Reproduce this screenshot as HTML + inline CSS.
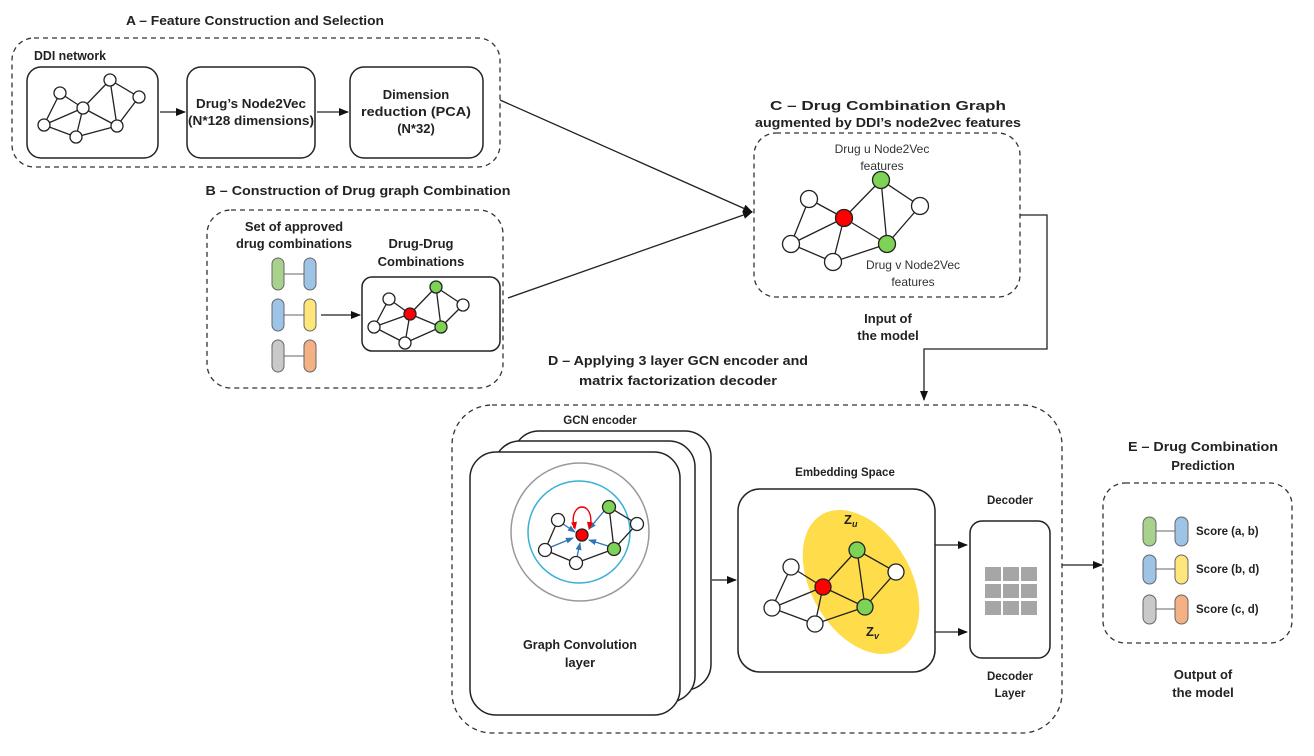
<!DOCTYPE html>
<html><head><meta charset="utf-8"><style>
html,body{margin:0;padding:0;background:#fff;}
svg{display:block;font-family:"Liberation Sans",sans-serif;}
.t{font-weight:bold;font-size:13px;fill:#222;text-anchor:middle;}
.s{font-size:12px;fill:#333;text-anchor:middle;}
.d{fill:none;stroke:#333;stroke-width:1.3;stroke-dasharray:5,4;}
.b{fill:#fff;stroke:#222;stroke-width:1.5;}
.e{stroke:#222;stroke-width:1.3;}
.n{fill:#fff;stroke:#222;stroke-width:1.3;}
.r{fill:#f00;stroke:#222;stroke-width:1.3;}
.g{fill:#7dd356;stroke:#222;stroke-width:1.3;}
.l{stroke:#222;stroke-width:1.3;fill:none;}
</style></head><body>
<svg width="1314" height="756" viewBox="0 0 1314 756">
<defs>
<marker id="ar" markerWidth="10" markerHeight="8" refX="9" refY="4" orient="auto" markerUnits="userSpaceOnUse"><path d="M0,0 L10,4 L0,8 z" fill="#111"/></marker>
<marker id="ab" markerWidth="8" markerHeight="6" refX="7" refY="3" orient="auto" markerUnits="userSpaceOnUse"><path d="M0,0 L8,3 L0,6 z" fill="#2e75b6"/></marker>
<marker id="arr" markerWidth="8" markerHeight="6" refX="7" refY="3" orient="auto" markerUnits="userSpaceOnUse"><path d="M0,0 L8,3 L0,6 z" fill="#e00"/></marker>
</defs>

<!-- A -->
<text class="t" x="255" y="25" textLength="258" lengthAdjust="spacingAndGlyphs">A – Feature Construction and Selection</text>
<rect class="d" x="12" y="38" width="488" height="129" rx="22"/>
<text class="t" x="70" y="60" textLength="72" lengthAdjust="spacingAndGlyphs">DDI network</text>
<rect class="b" x="27" y="67" width="131" height="91" rx="14"/>
<g>
<line class="e" x1="60" y1="93" x2="83" y2="108"/><line class="e" x1="60" y1="93" x2="44" y2="125"/>
<line class="e" x1="44" y1="125" x2="83" y2="108"/><line class="e" x1="83" y1="108" x2="76" y2="137"/>
<line class="e" x1="44" y1="125" x2="76" y2="137"/><line class="e" x1="83" y1="108" x2="110" y2="80"/>
<line class="e" x1="83" y1="108" x2="117" y2="126"/><line class="e" x1="110" y1="80" x2="117" y2="126"/>
<line class="e" x1="110" y1="80" x2="139" y2="97"/><line class="e" x1="139" y1="97" x2="117" y2="126"/>
<line class="e" x1="76" y1="137" x2="117" y2="126"/>
<circle class="n" cx="60" cy="93" r="6"/><circle class="n" cx="83" cy="108" r="6"/><circle class="n" cx="44" cy="125" r="6"/>
<circle class="n" cx="76" cy="137" r="6"/><circle class="n" cx="110" cy="80" r="6"/><circle class="n" cx="139" cy="97" r="6"/><circle class="n" cx="117" cy="126" r="6"/>
</g>
<line class="l" x1="160" y1="112" x2="185" y2="112" marker-end="url(#ar)"/>
<rect class="b" x="187" y="67" width="128" height="91" rx="14"/>
<text class="t" x="251" y="108" textLength="110" lengthAdjust="spacingAndGlyphs">Drug’s Node2Vec</text>
<text class="t" x="251" y="125" textLength="126" lengthAdjust="spacingAndGlyphs">(N*128 dimensions)</text>
<line class="l" x1="317" y1="112" x2="348" y2="112" marker-end="url(#ar)"/>
<rect class="b" x="350" y="67" width="133" height="91" rx="14"/>
<text class="t" x="416" y="99">Dimension</text>
<text class="t" x="416" y="116" textLength="110" lengthAdjust="spacingAndGlyphs">reduction (PCA)</text>
<text class="t" x="416" y="133">(N*32)</text>

<!-- B -->
<text class="t" x="358" y="195" textLength="305" lengthAdjust="spacingAndGlyphs">B – Construction of Drug graph Combination</text>
<rect class="d" x="207" y="210" width="296" height="178" rx="24"/>
<text class="t" x="294" y="231">Set of approved</text>
<text class="t" x="294" y="248" textLength="116" lengthAdjust="spacingAndGlyphs">drug combinations</text>
<text class="t" x="421" y="248">Drug-Drug</text>
<text class="t" x="421" y="266">Combinations</text>
<g stroke="#666" stroke-width="1">
<line x1="278" y1="274" x2="310" y2="274"/><line x1="278" y1="315" x2="310" y2="315"/><line x1="278" y1="356" x2="310" y2="356"/>
<rect x="272" y="258" width="12" height="32" rx="6" fill="#a9d18e"/><rect x="304" y="258" width="12" height="32" rx="6" fill="#9dc3e6"/>
<rect x="272" y="299" width="12" height="32" rx="6" fill="#9dc3e6"/><rect x="304" y="299" width="12" height="32" rx="6" fill="#ffe67a"/>
<rect x="272" y="340" width="12" height="32" rx="6" fill="#c9c9c9"/><rect x="304" y="340" width="12" height="32" rx="6" fill="#f4b183"/>
</g>
<line class="l" x1="321" y1="315" x2="360" y2="315" marker-end="url(#ar)"/>
<rect class="b" x="362" y="277" width="138" height="74" rx="10"/>
<g>
<line class="e" x1="389" y1="299" x2="410" y2="314"/><line class="e" x1="389" y1="299" x2="374" y2="327"/>
<line class="e" x1="374" y1="327" x2="410" y2="314"/><line class="e" x1="410" y1="314" x2="405" y2="343"/>
<line class="e" x1="374" y1="327" x2="405" y2="343"/><line class="e" x1="410" y1="314" x2="436" y2="287"/>
<line class="e" x1="410" y1="314" x2="441" y2="327"/><line class="e" x1="436" y1="287" x2="441" y2="327"/>
<line class="e" x1="436" y1="287" x2="463" y2="305"/><line class="e" x1="463" y1="305" x2="441" y2="327"/>
<line class="e" x1="405" y1="343" x2="441" y2="327"/>
<circle class="n" cx="389" cy="299" r="6"/><circle class="r" cx="410" cy="314" r="6"/><circle class="n" cx="374" cy="327" r="6"/>
<circle class="n" cx="405" cy="343" r="6"/><circle class="g" cx="436" cy="287" r="6"/><circle class="n" cx="463" cy="305" r="6"/><circle class="g" cx="441" cy="327" r="6"/>
</g>

<!-- A,B -> C -->
<line class="l" x1="500" y1="100" x2="752" y2="212" marker-end="url(#ar)"/>
<line class="l" x1="508" y1="298" x2="752" y2="212" marker-end="url(#ar)"/>

<!-- C -->
<text class="t" x="888" y="110" textLength="236" lengthAdjust="spacingAndGlyphs">C – Drug Combination Graph</text>
<text class="t" x="888" y="127" textLength="266" lengthAdjust="spacingAndGlyphs">augmented by DDI’s node2vec features</text>
<rect class="d" x="754" y="133" width="266" height="164" rx="22"/>
<text class="s" x="882" y="153">Drug u Node2Vec</text>
<text class="s" x="882" y="170">features</text>
<g>
<line class="e" x1="809" y1="199" x2="844" y2="218"/><line class="e" x1="809" y1="199" x2="791" y2="244"/>
<line class="e" x1="791" y1="244" x2="844" y2="218"/><line class="e" x1="844" y1="218" x2="833" y2="262"/>
<line class="e" x1="791" y1="244" x2="833" y2="262"/><line class="e" x1="844" y1="218" x2="881" y2="180"/>
<line class="e" x1="844" y1="218" x2="887" y2="244"/><line class="e" x1="881" y1="180" x2="887" y2="244"/>
<line class="e" x1="881" y1="180" x2="920" y2="206"/><line class="e" x1="920" y1="206" x2="887" y2="244"/>
<line class="e" x1="833" y1="262" x2="887" y2="244"/>
<circle class="n" cx="809" cy="199" r="8.5"/><circle class="r" cx="844" cy="218" r="8.5"/><circle class="n" cx="791" cy="244" r="8.5"/>
<circle class="n" cx="833" cy="262" r="8.5"/><circle class="g" cx="881" cy="180" r="8.5"/><circle class="n" cx="920" cy="206" r="8.5"/><circle class="g" cx="887" cy="244" r="8.5"/>
</g>
<text class="s" x="913" y="269">Drug v Node2Vec</text>
<text class="s" x="913" y="286">features</text>
<text class="t" x="888" y="323">Input of</text>
<text class="t" x="888" y="340">the model</text>
<polyline class="l" points="1020,215 1047,215 1047,349 924,349 924,400" marker-end="url(#ar)"/>

<!-- D -->
<text class="t" x="678" y="365" textLength="260" lengthAdjust="spacingAndGlyphs">D – Applying 3 layer GCN encoder and</text>
<text class="t" x="678" y="385" textLength="198" lengthAdjust="spacingAndGlyphs">matrix factorization decoder</text>
<rect class="d" x="452" y="405" width="610" height="328" rx="40"/>
<text class="t" x="600" y="424" style="font-size:11.5px">GCN encoder</text>
<rect class="b" x="513" y="431" width="198" height="259" rx="26"/>
<rect class="b" x="494" y="441" width="201" height="261" rx="26"/>
<rect class="b" x="470" y="452" width="210" height="263" rx="26"/>
<circle cx="580" cy="532" r="69" fill="none" stroke="#999" stroke-width="1.5"/>
<circle cx="579" cy="532" r="51" fill="none" stroke="#3ab0d8" stroke-width="1.5"/>
<g>
<line class="e" x1="558" y1="520" x2="545" y2="550"/><line class="e" x1="545" y1="550" x2="576" y2="563"/>
<line class="e" x1="576" y1="563" x2="614" y2="549"/><line class="e" x1="609" y1="507" x2="614" y2="549"/>
<line class="e" x1="609" y1="507" x2="637" y2="524"/><line class="e" x1="637" y1="524" x2="614" y2="549"/>
<g stroke="#2e75b6" stroke-width="1.3" marker-end="url(#ab)">
<line x1="563" y1="524" x2="575" y2="532"/><line x1="551" y1="547" x2="573" y2="538"/>
<line x1="577" y1="557" x2="580" y2="543"/><line x1="608" y1="546" x2="589" y2="540"/>
<line x1="604" y1="511" x2="589" y2="529"/>
</g>
<path d="M574,528 C568,500 596,500 590,528" fill="none" stroke="#e00" stroke-width="1.4"/>
<line x1="574" y1="522" x2="575" y2="529" stroke="#e00" marker-end="url(#arr)"/>
<line x1="590" y1="522" x2="589" y2="529" stroke="#e00" marker-end="url(#arr)"/>
<circle class="n" cx="558" cy="520" r="6.5"/><circle class="n" cx="545" cy="550" r="6.5"/><circle class="n" cx="576" cy="563" r="6.5"/>
<circle class="g" cx="609" cy="507" r="6.5"/><circle class="n" cx="637" cy="524" r="6.5"/><circle class="g" cx="614" cy="549" r="6.5"/>
<circle class="r" cx="582" cy="535" r="6"/>
</g>
<text class="t" x="580" y="649" textLength="114" lengthAdjust="spacingAndGlyphs">Graph Convolution</text>
<text class="t" x="580" y="667">layer</text>
<line class="l" x1="712" y1="580" x2="736" y2="580" marker-end="url(#ar)"/>
<text class="t" x="845" y="476" style="font-size:11.5px">Embedding Space</text>
<rect class="b" x="738" y="489" width="197" height="183" rx="22"/>
<ellipse cx="861" cy="582" rx="50" ry="78" transform="rotate(-30 861 582)" fill="#ffd835" opacity="0.9"/>
<g>
<line class="e" x1="791" y1="567" x2="823" y2="587"/><line class="e" x1="791" y1="567" x2="772" y2="608"/>
<line class="e" x1="772" y1="608" x2="823" y2="587"/><line class="e" x1="823" y1="587" x2="815" y2="624"/>
<line class="e" x1="772" y1="608" x2="815" y2="624"/><line class="e" x1="823" y1="587" x2="857" y2="550"/>
<line class="e" x1="823" y1="587" x2="865" y2="607"/><line class="e" x1="857" y1="550" x2="865" y2="607"/>
<line class="e" x1="857" y1="550" x2="896" y2="572"/><line class="e" x1="896" y1="572" x2="865" y2="607"/>
<line class="e" x1="815" y1="624" x2="865" y2="607"/>
<circle class="n" cx="791" cy="567" r="8"/><circle class="r" cx="823" cy="587" r="8"/><circle class="n" cx="772" cy="608" r="8"/>
<circle class="n" cx="815" cy="624" r="8"/><circle class="g" cx="857" cy="550" r="8"/><circle class="n" cx="896" cy="572" r="8"/><circle class="g" cx="865" cy="607" r="8"/>
</g>
<text x="844" y="524" style="font-size:13px;fill:#222;font-weight:bold">Z<tspan dy="3" style="font-size:9px;font-style:italic">u</tspan></text>
<text x="866" y="636" style="font-size:13px;fill:#222;font-weight:bold">Z<tspan dy="3" style="font-size:9px;font-style:italic">v</tspan></text>
<line class="l" x1="935" y1="545" x2="967" y2="545" marker-end="url(#ar)"/>
<line class="l" x1="935" y1="632" x2="967" y2="632" marker-end="url(#ar)"/>
<text class="t" x="1010" y="504" style="font-size:11.5px">Decoder</text>
<rect class="b" x="970" y="521" width="80" height="137" rx="12"/>
<g fill="#a6a6a6">
<rect x="985" y="567" width="16" height="14"/><rect x="1003" y="567" width="16" height="14"/><rect x="1021" y="567" width="16" height="14"/>
<rect x="985" y="584" width="16" height="14"/><rect x="1003" y="584" width="16" height="14"/><rect x="1021" y="584" width="16" height="14"/>
<rect x="985" y="601" width="16" height="14"/><rect x="1003" y="601" width="16" height="14"/><rect x="1021" y="601" width="16" height="14"/>
</g>
<text class="t" x="1010" y="680" style="font-size:11.5px">Decoder</text>
<text class="t" x="1010" y="697" style="font-size:11.5px">Layer</text>
<line class="l" x1="1062" y1="565" x2="1102" y2="565" marker-end="url(#ar)"/>

<!-- E -->
<text class="t" x="1203" y="451" textLength="150" lengthAdjust="spacingAndGlyphs">E – Drug Combination</text>
<text class="t" x="1203" y="470">Prediction</text>
<rect class="d" x="1103" y="483" width="189" height="160" rx="22"/>
<g stroke="#666" stroke-width="1">
<line x1="1149" y1="531" x2="1181" y2="531"/><line x1="1149" y1="569" x2="1181" y2="569"/><line x1="1149" y1="609" x2="1181" y2="609"/>
<rect x="1143" y="517" width="13" height="29" rx="6.5" fill="#a9d18e"/><rect x="1175" y="517" width="13" height="29" rx="6.5" fill="#9dc3e6"/>
<rect x="1143" y="555" width="13" height="29" rx="6.5" fill="#9dc3e6"/><rect x="1175" y="555" width="13" height="29" rx="6.5" fill="#ffe67a"/>
<rect x="1143" y="595" width="13" height="29" rx="6.5" fill="#c9c9c9"/><rect x="1175" y="595" width="13" height="29" rx="6.5" fill="#f4b183"/>
</g>
<text x="1196" y="535" style="font-size:11.5px;font-weight:bold;fill:#222">Score (a, b)</text>
<text x="1196" y="573" style="font-size:11.5px;font-weight:bold;fill:#222">Score (b, d)</text>
<text x="1196" y="613" style="font-size:11.5px;font-weight:bold;fill:#222">Score (c, d)</text>
<text class="t" x="1203" y="679">Output of</text>
<text class="t" x="1203" y="697">the model</text>
</svg>
</body></html>
